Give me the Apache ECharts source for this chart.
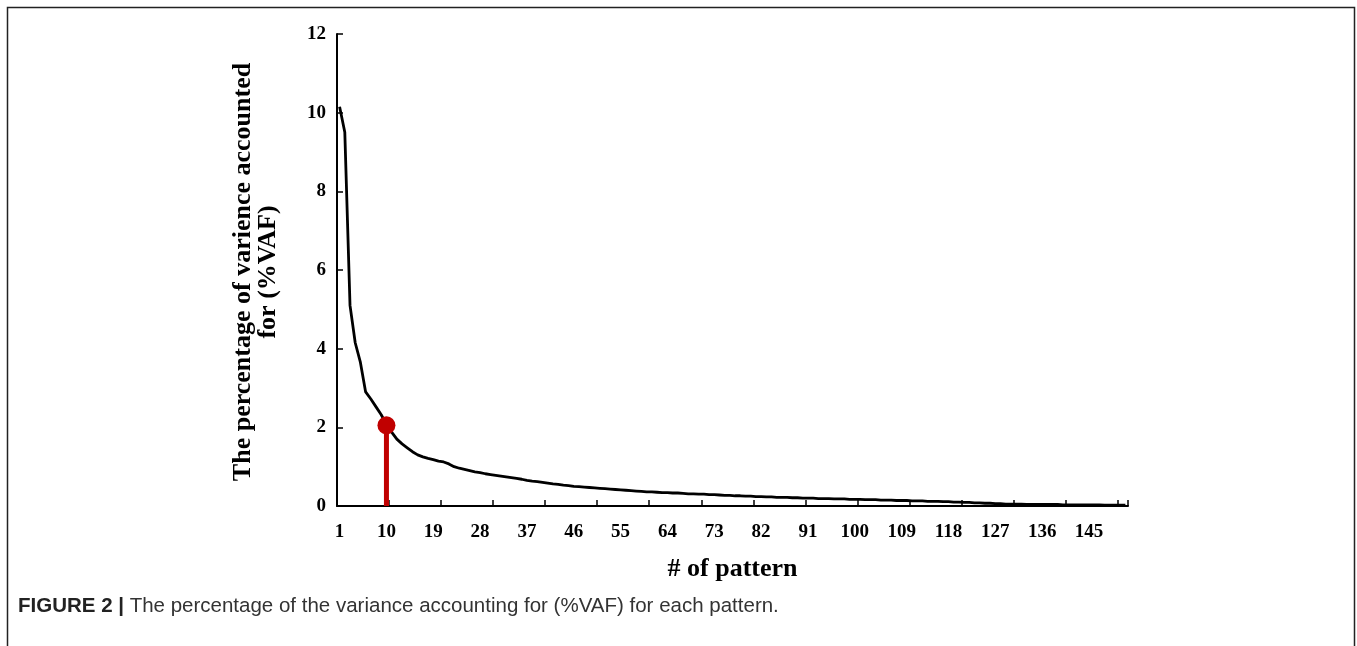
<!DOCTYPE html>
<html>
<head>
<meta charset="utf-8">
<script src="https://cdn.jsdelivr.net/npm/echarts@6/dist/echarts.min.js"></script>
<style>html,body{margin:0;padding:0;background:#fff}#c{width:1357px;height:646px}</style>
</head>
<body>
<div id="c"></div>
<script>
const vafValues = [
  10.15, 9.5, 5.1, 4.15, 3.65, 2.9, 2.72, 2.52, 2.32, 2.07,
  1.88, 1.7, 1.58, 1.48, 1.38, 1.3, 1.25, 1.21, 1.18, 1.14,
  1.12, 1.07, 1.0, 0.96, 0.93, 0.9, 0.87, 0.85, 0.82, 0.8,
  0.78, 0.76, 0.74, 0.72, 0.7, 0.68, 0.65, 0.63, 0.62, 0.6,
  0.58, 0.56, 0.55, 0.53, 0.52, 0.5, 0.49, 0.48, 0.47, 0.46,
  0.45, 0.44, 0.43, 0.42, 0.41, 0.4, 0.39, 0.38, 0.37, 0.36,
  0.36, 0.35, 0.34, 0.34, 0.33, 0.33, 0.32, 0.31, 0.31, 0.3,
  0.3, 0.29, 0.29, 0.28, 0.27, 0.27, 0.26, 0.26, 0.25, 0.25,
  0.24, 0.24, 0.23, 0.23, 0.22, 0.22, 0.22, 0.21, 0.21, 0.2,
  0.2, 0.2, 0.19, 0.19, 0.19, 0.18, 0.18, 0.18, 0.17, 0.17,
  0.17, 0.16, 0.16, 0.16, 0.15, 0.15, 0.15, 0.14, 0.14, 0.14,
  0.13, 0.13, 0.13, 0.12, 0.12, 0.12, 0.11, 0.11, 0.1, 0.1,
  0.09, 0.09, 0.08, 0.08, 0.07, 0.07, 0.06, 0.06, 0.05, 0.05,
  0.05, 0.05, 0.04, 0.04, 0.04, 0.04, 0.04, 0.04, 0.04, 0.03,
  0.03, 0.03, 0.03, 0.03, 0.03, 0.03, 0.03, 0.02, 0.02, 0.02,
  0.02, 0.02
];
const patternNumbers = vafValues.map((v, i) => String(i + 1));
const selectedPattern = 10;
const selectedValue = 2.05;
const yTicks = [0, 2, 4, 6, 8, 10, 12];
const xAxisTitle = '# of pattern';
const yAxisTitleLines = ['The percentage of varience accounted', 'for (%VAF)'];
const captionBold = 'FIGURE 2 |';
const captionText = ' The percentage of the variance accounting for (%VAF) for each pattern.';

const selIdx = patternNumbers.indexOf(String(selectedPattern));
const stemData = patternNumbers.map((c, i) => i === selIdx ? selectedValue : null);
const dotData = patternNumbers.map((c, i) => i === selIdx ? selectedValue : null);

const serif = '"Liberation Serif", "Times New Roman", serif';
const sans = '"Liberation Sans", Arial, sans-serif';
const chart = echarts.init(document.getElementById('c'));
chart.setOption({
  animation: false,
  backgroundColor: '#fff',
  grid: { left: 337, right: 229, top: 34, bottom: 140, containLabel: false },
  xAxis: {
    type: 'category',
    data: patternNumbers,
    boundaryGap: true,
    name: xAxisTitle,
    nameLocation: 'middle',
    nameGap: 50,
    nameTextStyle: { fontFamily: serif, fontWeight: 'bold', fontSize: 26, color: '#000' },
    axisLine: { lineStyle: { color: '#000', width: 2 } },
    axisTick: { show: true, inside: true, interval: 9, length: 6, lineStyle: { color: '#000', width: 1.5 } },
    axisLabel: { interval: 8, margin: 17, fontFamily: serif, fontWeight: 'bold', fontSize: 19, color: '#000' },
    splitLine: { show: false }
  },
  yAxis: {
    type: 'value',
    min: yTicks[0],
    max: yTicks[yTicks.length - 1],
    interval: yTicks[1] - yTicks[0],
    axisLine: { show: true, lineStyle: { color: '#000', width: 2 } },
    axisTick: { show: true, inside: true, length: 6, lineStyle: { color: '#000', width: 1.5 } },
    axisLabel: { margin: 11, fontFamily: serif, fontWeight: 'bold', fontSize: 19, color: '#000' },
    splitLine: { show: false }
  },
  series: [
    {
      type: 'line',
      data: vafValues,
      symbol: 'none',
      lineStyle: { color: '#000', width: 2.8 },
      z: 2
    },
    {
      type: 'bar',
      data: stemData,
      barWidth: 5,
      itemStyle: { color: '#c00000', opacity: 1 },
      z: 3
    },
    {
      type: 'scatter',
      data: dotData,
      symbol: 'circle',
      symbolSize: 18,
      itemStyle: { color: '#c00000', opacity: 1 },
      z: 4
    }
  ],
  graphic: [
    {
      type: 'rect',
      shape: { x: 7.5, y: 7.5, width: 1347, height: 700 },
      style: { fill: 'none', stroke: '#222', lineWidth: 1.5 },
      silent: true
    },
    {
      type: 'text',
      x: 256, y: 272,
      rotation: Math.PI / 2,
      style: {
        text: yAxisTitleLines.join('\n'),
        font: 'bold 26px ' + serif,
        fill: '#000',
        align: 'center',
        verticalAlign: 'middle',
        lineHeight: 25
      }
    },
    {
      type: 'text',
      x: 18, y: 606,
      style: {
        text: '{b|' + captionBold + '}{n|' + captionText + '}',
        verticalAlign: 'middle',
        rich: {
          b: { fontFamily: sans, fontWeight: 'bold', fontSize: 20.5, fill: '#222' },
          n: { fontFamily: sans, fontSize: 20.5, fill: '#333' }
        }
      }
    }
  ]
});
</script>
</body>
</html>
